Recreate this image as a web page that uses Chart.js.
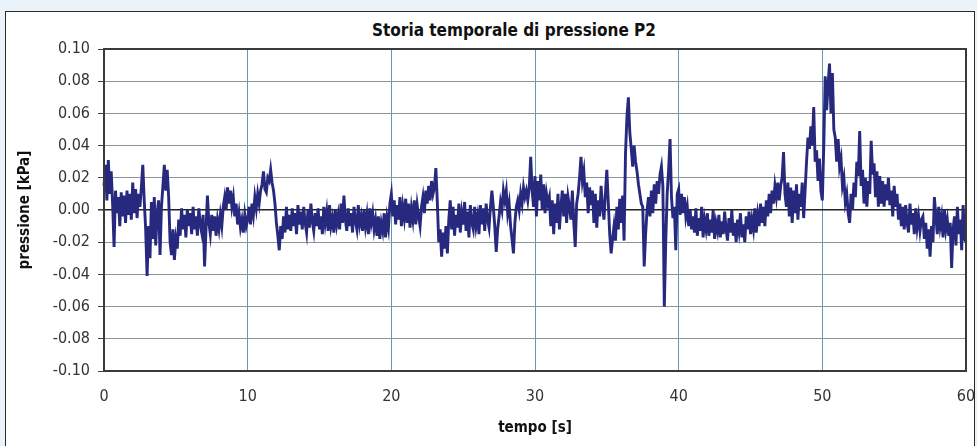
<!DOCTYPE html>
<html><head><meta charset="utf-8">
<script src="https://cdn.jsdelivr.net/npm/chart.js@4/dist/chart.umd.min.js"></script>
<style>
html,body{margin:0;padding:0;width:977px;height:446px;overflow:hidden;background:#eaf2fa}
#panel{position:absolute;left:5px;top:11px;width:968px;height:440px;background:#fff;border:1px solid #2a2a2a;border-bottom:none}
#title{position:absolute;left:264px;width:500px;top:20px;text-align:center;font:bold 17px 'Liberation Sans Narrow','Arial Narrow','DejaVu Sans Condensed',Arial,sans-serif;color:#111;line-height:20px}
#wrap{position:absolute;left:0;top:0;width:977px;height:446px}
</style></head><body>
<div id="panel"></div>
<div id="title">Storia temporale di pressione P2</div>
<div id="wrap"><canvas id="c" width="977" height="446"></canvas></div>
<script>
// Time axis: samples every 0.1 s from 0 to 60 s
const sampleStart = 0, sampleStep = 0.1;
const xTicks = [0,10,20,30,40,50,60];
const yTicks = [-0.10,-0.08,-0.06,-0.04,-0.02,0.00,0.02,0.04,0.06,0.08,0.10];
// Pressure [kPa], 10 values per second
const p00_10 = [
 .015,.028,.006,.031,.010,.024,.004,-.023,.012,-.002,
 .008,-.010,.011,-.004,.009,-.008,.012,-.003,.010,-.006,
 .017,-.002,.013,-.005,.010,.002,.014,.028,.006,-.012,
 -.041,-.010,-.030,.005,-.018,.008,-.022,-.002,.006,-.028,
 .002,.015,.028,.012,.025,.008,-.020,-.028,-.012,-.031,
 -.018,-.024,-.006,-.016,.001,-.012,-.003,-.017,.000,-.010,
 -.002,-.015,.002,-.012,-.004,-.016,.001,-.009,-.014,-.003,
 -.035,-.012,.009,-.008,-.015,-.003,-.013,-.004,-.016,-.006,
 -.012,-.003,-.010,.002,.008,.000,.014,.004,.012,.002,
 .008,-.004,.004,-.009,-.002,-.011,-.006,-.014,-.003,-.010];
const p10_20 = [
 -.006,.002,-.009,.004,-.003,.008,.001,.010,.004,.012,
 .016,.024,.013,.011,.020,.018,.025,.017,.012,.004,
 -.008,-.016,-.025,-.010,-.018,-.004,-.014,.002,-.012,-.003,
 -.013,.001,-.010,-.002,-.015,.003,-.009,-.001,-.012,.002,
 -.008,-.014,.000,-.011,.004,-.007,-.013,-.002,-.010,.001,
 -.012,-.004,-.015,.002,-.008,-.001,-.013,.003,-.010,-.005,
 -.014,.000,-.009,-.003,-.012,.004,-.008,.009,-.006,-.013,
 .001,-.010,-.002,-.014,.002,-.007,-.012,.003,-.009,-.004,
 -.013,.000,-.010,-.003,-.015,.001,-.008,-.002,-.012,-.006,
 -.016,-.004,-.018,-.008,-.013,-.002,-.017,-.005,-.011,.004];
const p20_30 = [
 .010,-.004,.006,-.009,.003,-.006,.008,-.010,.002,-.005,
 .007,-.008,.004,-.011,.001,-.006,.006,-.009,.003,-.004,
 -.010,.002,.008,-.002,.012,.004,.015,.006,.018,.010,
 .014,.026,.005,-.020,-.012,-.029,-.014,-.024,-.010,-.027,
 -.006,.006,-.012,.002,-.016,-.003,-.011,.004,-.014,-.002,
 -.009,.005,-.013,-.001,-.017,.003,-.008,-.012,.002,-.010,
 -.004,-.015,.003,-.009,.001,-.013,.004,-.006,-.011,.002,
 .012,.002,-.010,-.026,-.012,-.004,.005,.000,.012,.006,
 .012,-.002,.004,-.010,-.018,-.027,-.008,.002,.006,.000,
 .010,.004,.014,.008,.012,.006,.014,.033,.012,.002];
const p30_40 = [
 .021,-.004,.018,.006,.022,.000,.016,-.002,.010,.004,
 .008,-.010,.006,-.015,.004,-.008,.010,-.012,.002,.012,
 -.004,.010,-.008,.008,.002,-.006,.012,-.008,-.023,.004,
 .010,.020,.033,.018,.024,.008,.017,-.002,.014,.003,
 .012,-.008,.010,-.011,.006,-.004,.015,.002,-.006,.010,
 .025,.005,-.015,-.027,-.018,-.010,-.019,.002,-.012,.007,
 -.008,.009,-.019,.035,.058,.070,.048,.038,.027,.040,
 .030,.024,.016,.010,.004,.002,-.035,-.015,.000,.008,
 -.004,.012,-.002,.016,.004,.018,.010,.022,.027,.015,
 -.060,-.020,.010,.025,.044,.008,-.005,.002,-.025,.010];
const p40_50 = [
 .013,-.003,.010,-.002,.008,-.004,.002,-.010,.000,-.012,
 -.004,-.014,.001,-.016,-.005,-.013,.002,-.017,-.006,-.012,
 -.002,-.016,-.006,-.014,.000,-.018,-.008,-.013,-.003,-.017,
 -.007,-.015,-.001,-.012,-.019,-.005,-.014,.000,-.016,-.008,
 -.020,-.006,-.013,-.002,-.017,-.009,-.020,-.004,-.012,-.001,
 -.015,-.006,-.012,.001,-.014,-.003,-.010,.004,-.008,.002,
 -.010,.006,-.004,.010,-.002,.012,.004,.015,.008,.017,
 .006,.015,.020,.036,.010,.002,.017,-.004,.014,-.008,
 .012,-.002,.016,-.006,.010,.002,.017,-.005,.012,.030,
 .045,.038,.052,.040,.064,.030,.037,.018,.032,.012];
const p50_60 = [
 .006,.040,.083,.062,.078,.091,.060,.085,.050,.045,
 .030,.044,.027,.032,.015,.020,.005,.010,-.002,-.008,
 .010,.000,.017,.008,.030,.021,.049,.015,.025,.004,
 .020,.002,.018,.010,.043,.022,.029,.008,.024,.002,
 .021,.004,.018,.002,.016,.006,.020,.003,.012,-.004,
 .015,.002,.010,-.006,.004,-.010,.002,-.012,.003,-.008,
 -.014,.004,-.009,-.002,-.015,.001,-.011,-.004,-.013,-.006,
 -.004,-.018,-.008,-.024,-.012,-.029,-.010,-.020,.008,-.004,
 -.015,.002,-.010,-.004,-.017,.000,-.012,-.006,-.016,-.008,
 -.036,-.012,-.004,-.022,.002,-.015,-.006,-.025,.003,-.018,
 -.020];

const pressure = [].concat(p00_10,p10_20,p20_30,p30_40,p40_50,p50_60);
const points = pressure.map((v,i)=>({x: +(sampleStart + i*sampleStep).toFixed(1), y: v}));

const FONT = "'Liberation Sans Narrow','Arial Narrow','DejaVu Sans Condensed',Arial,sans-serif";

const frame = {
  id:'frame',
  afterDraw(chart){
    const {ctx, chartArea:a} = chart;
    ctx.save();
    ctx.strokeStyle = '#3a3a3a';
    ctx.lineWidth = 2;
    ctx.strokeRect(a.left, a.top, a.right-a.left, a.bottom-a.top);
    ctx.restore();
  }
};

new Chart(document.getElementById('c'), {
  type:'line',
  data:{datasets:[{data:points, borderColor:'#27297e', borderWidth:2.9, pointRadius:0, tension:0, fill:false, clip:false}]},
  options:{
    responsive:false, animation:false, events:[],
    layout:{padding:{left:16,right:11,top:49,bottom:0}},
    plugins:{legend:{display:false}, tooltip:{enabled:false}},
    scales:{
      x:{type:'linear', min:0, max:60,
        afterBuildTicks(s){ s.ticks = xTicks.map(v=>({value:v})); },
        afterFit(s){ s.height = 75; s.paddingRight = 0; s.paddingLeft = 0; },
        grid:{color:'#5e9bb0', lineWidth:1, drawTicks:false},
        border:{display:false},
        ticks:{padding:16, color:'#333', font:{family:FONT, size:16}, maxRotation:0, autoSkip:false},
        title:{display:true, text:'tempo [s]', color:'#111', font:{family:FONT, size:15, weight:'bold'}, padding:{top:4,bottom:9}}
      },
      y:{type:'linear', min:-0.1, max:0.1,
        afterBuildTicks(s){ s.ticks = yTicks.map(v=>({value:v})); },
        afterFit(s){ s.width = 88; },
        grid:{color:(c)=> Math.abs(c.tick.value)<1e-9 ? '#222' : '#8a969a', lineWidth:(c)=> Math.abs(c.tick.value)<1e-9 ? 1.6 : 1, tickLength:6, tickColor:'#444'},
        border:{display:false},
        ticks:{padding:8, color:'#333', font:{family:FONT, size:16}, callback:(v)=>Number(v).toFixed(2)},
        title:{display:true, text:'pressione [kPa]', color:'#111', font:{family:FONT, size:15, weight:'bold'}, padding:{top:0,bottom:8}}
      }
    }
  },
  plugins:[frame]
});
</script>
</body></html>
